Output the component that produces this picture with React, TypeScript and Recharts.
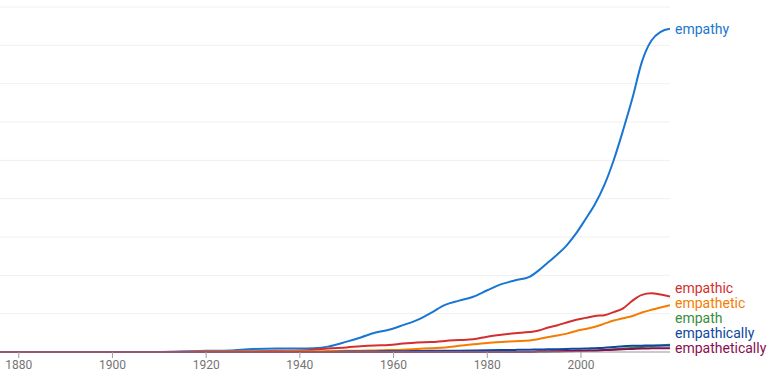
import React from 'react';
import { LineChart, Line, XAxis, YAxis, CartesianGrid } from 'recharts';

// sampled years (uneven spacing, number axis)
const years = [1876, 1885, 1900, 1910, 1915, 1920, 1925, 1930, 1935, 1940, 1943, 1946, 1950, 1953, 1956, 1959, 1962, 1965, 1968, 1971, 1974, 1977, 1980, 1983, 1986, 1989, 1991, 1993, 1995, 1997, 1999, 2001, 2003, 2005, 2007, 2009, 2011, 2013, 2015, 2017, 2019];

const empathy = [0, 0, 0, 0, 0.01, 0.03, 0.04, 0.08, 0.09, 0.09, 0.1, 0.14, 0.27, 0.38, 0.5, 0.58, 0.7, 0.83, 1.02, 1.23, 1.34, 1.44, 1.61, 1.77, 1.87, 1.96, 2.13, 2.34, 2.55, 2.79, 3.1, 3.47, 3.86, 4.36, 5.01, 5.79, 6.63, 7.57, 8.12, 8.35, 8.43];
const empathic = [0, 0, 0, 0, 0.005, 0.01, 0.015, 0.02, 0.03, 0.04, 0.06, 0.09, 0.12, 0.15, 0.17, 0.18, 0.22, 0.25, 0.26, 0.29, 0.31, 0.33, 0.4, 0.45, 0.49, 0.52, 0.56, 0.64, 0.7, 0.77, 0.84, 0.89, 0.94, 0.96, 1.04, 1.14, 1.34, 1.49, 1.53, 1.5, 1.45];
const empathetic = [0, 0, 0, 0, 0, 0.01, 0.01, 0.01, 0.015, 0.02, 0.02, 0.025, 0.03, 0.035, 0.04, 0.05, 0.06, 0.08, 0.1, 0.12, 0.16, 0.2, 0.235, 0.26, 0.28, 0.3, 0.34, 0.39, 0.43, 0.48, 0.55, 0.6, 0.66, 0.74, 0.82, 0.88, 0.94, 1.03, 1.1, 1.16, 1.22];
const empath = [0, 0, 0, 0, 0, 0, 0, 0, 0, 0, 0, 0, 0, 0, 0, 0, 0, 0, 0, 0, 0, 0, 0, 0, 0, 0, 0.01, 0.01, 0.015, 0.02, 0.025, 0.03, 0.035, 0.05, 0.07, 0.09, 0.11, 0.13, 0.15, 0.17, 0.19];
const empathically = [0, 0, 0, 0, 0, 0, 0, 0, 0, 0, 0, 0, 0.01, 0.01, 0.015, 0.02, 0.02, 0.025, 0.03, 0.03, 0.035, 0.04, 0.045, 0.05, 0.055, 0.06, 0.065, 0.07, 0.075, 0.08, 0.085, 0.09, 0.1, 0.11, 0.13, 0.15, 0.16, 0.165, 0.17, 0.17, 0.17];
const empathetically = [0, 0, 0, 0, 0, 0, 0, 0, 0, 0, 0, 0, 0, 0, 0, 0, 0, 0, 0, 0, 0, 0, 0, 0, 0, 0, 0.01, 0.015, 0.02, 0.025, 0.03, 0.035, 0.04, 0.05, 0.06, 0.07, 0.08, 0.09, 0.095, 0.1, 0.1];

const xTicks = [1880, 1900, 1920, 1940, 1960, 1980, 2000];
const yTicks = [0, 1, 2, 3, 4, 5, 6, 7, 8, 9];

const series = [
  { key: 'empathy', values: empathy, color: '#1976d2' },
  { key: 'empathic', values: empathic, color: '#d32f2f' },
  { key: 'empathetic', values: empathetic, color: '#f57c00' },
  { key: 'empath', values: empath, color: '#388e3c' },
  { key: 'empathically', values: empathically, color: '#0d47a1' },
  { key: 'empathetically', values: empathetically, color: '#880e4f' },
];

const data = years.map((year, i) => {
  const row: Record<string, number> = { year };
  series.forEach(s => { row[s.key] = s.values[i]; });
  return row;
});

const W = 783;
const H = 380;
const TOP = 7;
const XAXIS_H = 28;
const Y_MAX = 9;
const pxPerUnit = (H - TOP - XAXIS_H) / Y_MAX;
const LABEL_GAP = 15 / pxPerUnit;

// push end labels apart so they don't overlap (working upward from the lowest)
const labelShift: Record<string, number> = {};
{
  const ends = series.map(s => ({ key: s.key, v: s.values[s.values.length - 1] })).sort((a, b) => a.v - b.v);
  let prev = -Infinity;
  ends.forEach(e => {
    const pos = Math.max(e.v, prev + LABEL_GAP);
    labelShift[e.key] = (pos - e.v) * pxPerUnit;
    prev = pos;
  });
}

const endLabel = (key: string, color: string) => (props: any) => {
  const { x, y, index } = props;
  if (index !== years.length - 1) return null;
  return (
    <text x={x + 5} y={y - labelShift[key]} fill={color} fontSize={14} dominantBaseline="central" fontFamily="Roboto">
      {key}
    </text>
  );
};

export default function App() {
  return (
    <div style={{ position: 'absolute', left: 0, top: 0, width: W, height: H, background: '#fff', fontFamily: 'Roboto' }}>
      <LineChart width={W} height={H} data={data} margin={{ top: TOP, right: 113, left: 0, bottom: 0 }}>
        <CartesianGrid vertical={false} stroke="#f0f0f0" strokeWidth={1} />
        <XAxis
          dataKey="year"
          type="number"
          domain={[1876, 2019]}
          ticks={xTicks}
          height={XAXIS_H}
          tickSize={6}
          stroke="#9e9e9e"
          tick={{ fill: '#757575', fontSize: 12, fontFamily: 'Roboto' }}
          allowDataOverflow
        />
        <YAxis hide domain={[0, Y_MAX]} ticks={yTicks} />
        {series.map(s => (
          <Line
            key={s.key}
            dataKey={s.key}
            type="monotone"
            stroke={s.color}
            strokeWidth={2}
            dot={false}
            isAnimationActive={false}
            label={endLabel(s.key, s.color)}
          />
        ))}
      </LineChart>
    </div>
  );
}
